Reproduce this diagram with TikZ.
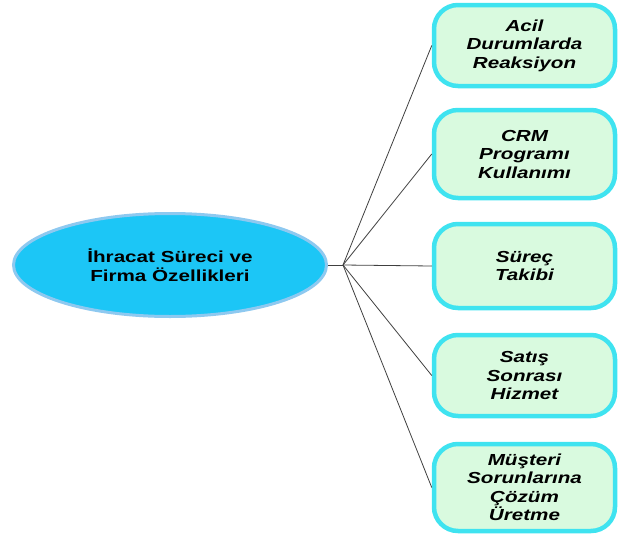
\documentclass[tikz,border=0pt]{standalone}
\usepackage{fontspec}
\setmainfont{Liberation Sans}
\newfontfamily\genis[FakeStretch=1.29]{Liberation Sans}
\usetikzlibrary{shapes.geometric}
\definecolor{ellfill}{HTML}{1CC6F6}
\definecolor{ellborder}{HTML}{8EC9F0}
\definecolor{boxfill}{HTML}{D9FADF}
\definecolor{boxborder}{HTML}{3FE3F0}
\definecolor{dalgray}{HTML}{404040}
\begin{document}
\begin{tikzpicture}[x=1pt,y=-1pt,
    konu/.style={ellipse,draw=ellborder,line width=3pt,fill=ellfill,
        minimum width=313pt,minimum height=103pt,align=center,
        font=\genis\bfseries\fontsize{16}{18.5}\selectfont},
    kutu/.style={rectangle,rounded corners=24pt,draw=boxborder,line width=4.5pt,
        fill=boxfill,minimum width=181pt,align=center,
        font=\genis\bfseries\itshape\fontsize{16}{18.5}\selectfont},
    dal/.style={draw=dalgray,line width=0.8pt}]
    \useasboundingbox (0,0) rectangle (621,538);

    \node[konu] (merkez) at (170,265) {İhracat Süreci ve\\Firma Özellikleri};
    \coordinate (kavsak) at (343,265);

    \node[kutu,minimum height=81pt] (acil) at (524.5,45.5) {Acil\\Durumlarda\\Reaksiyon};
    \node[kutu,minimum height=88pt] (crm) at (524.5,154) {CRM\\Programı\\Kullanımı};
    \node[kutu,minimum height=84pt] (surec) at (524.5,266) {Süreç\\Takibi};
    \node[kutu,minimum height=81pt] (satis) at (524.5,375.5) {Satış\\Sonrası\\Hizmet};
    \node[kutu,minimum height=87pt] (musteri) at (524.5,487.5) {Müşteri\\Sorunlarına\\Çözüm\\Üretme};

    % dallar
    \draw[dal] (merkez) -- (kavsak);
    \foreach \k in {acil,crm,surec,satis,musteri}
        \draw[dal] (kavsak) -- (\k.west);
\end{tikzpicture}
\end{document}
